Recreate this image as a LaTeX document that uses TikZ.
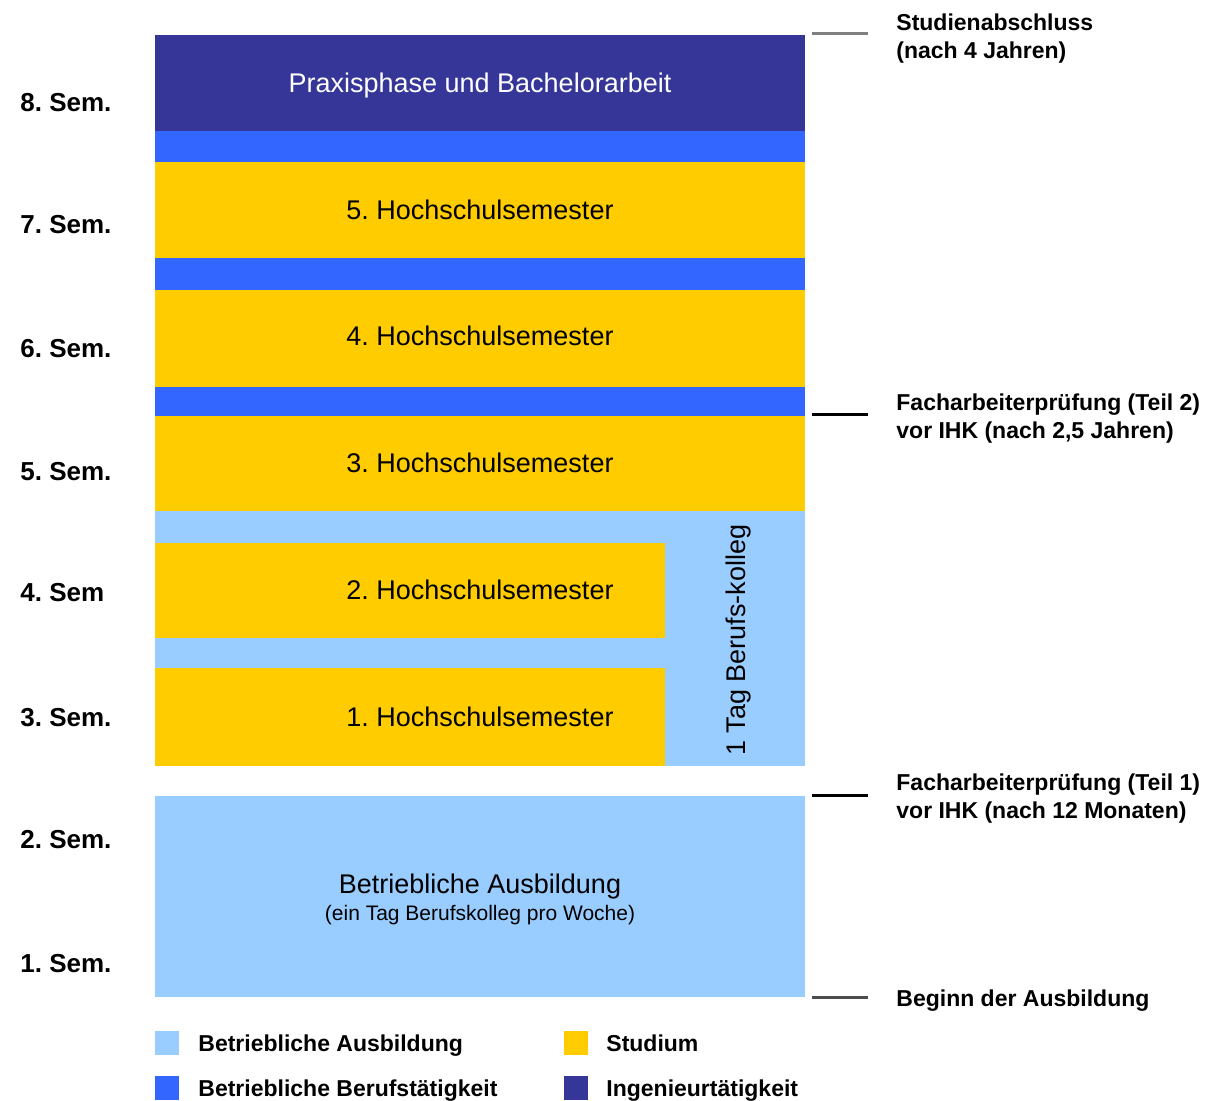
\documentclass[tikz,border=0pt]{standalone}
\usepackage{fontspec}
\setmainfont{Liberation Sans}
\usepackage{xcolor}
\usepackage{tikz}
\definecolor{ausbildung}{HTML}{99CCFF}
\definecolor{beruf}{HTML}{3366FF}
\definecolor{studium}{HTML}{FFCC00}
\definecolor{ingenieur}{HTML}{363699}
\frenchspacing

\begin{document}
\begin{tikzpicture}[x=0.5pt,y=-0.5pt,
  sem/.style={anchor=west,inner sep=0pt,font=\fontsize{13}{15}\selectfont\bfseries},
  info/.style={anchor=north west,inner sep=0pt,align=left,font=\fontsize{11.5}{14}\selectfont\bfseries},
  inbox/.style={anchor=base,inner sep=0pt,font=\fontsize{13.5}{15}\selectfont},
  tick/.style={line width=1.5pt}]
  \useasboundingbox (0,0) rectangle (1225,1101);
  % blocks
  \fill[ingenieur] (155,35) rectangle (805,131);
  \fill[beruf] (155,131) rectangle (805,162);
  \fill[studium] (155,162) rectangle (805,258);
  \fill[beruf] (155,258) rectangle (805,290);
  \fill[studium] (155,290) rectangle (805,387);
  \fill[beruf] (155,387) rectangle (805,416);
  \fill[studium] (155,416) rectangle (805,511);
  \fill[ausbildung] (155,511) rectangle (805,766);
  \fill[studium] (155,543) rectangle (665,638);
  \fill[studium] (155,668) rectangle (665,766);
  \fill[ausbildung] (155,796) rectangle (805,997);
  \draw (480,93) node[inbox,text=white] (praxis) {Praxisphase und Bachelorarbeit}
    (480,220) node[inbox] (hs5) {5. Hochschulsemester}
    (480,346) node[inbox] (hs4) {4. Hochschulsemester}
    (480,472) node[inbox] (hs3) {3. Hochschulsemester}
    (480,599) node[inbox] (hs2) {2. Hochschulsemester}
    (480,726) node[inbox] (hs1) {1. Hochschulsemester}
    (745,640) node[inbox,rotate=90] (kolleg) {1 Tag Berufs-kolleg}
    (480,893) node[inbox] (betrieb) {Betriebliche Ausbildung}
    (480,920) node[inbox,font=\fontsize{10.5}{12}\selectfont] (woche) {(ein Tag Berufskolleg pro Woche)};
  % semesters
  \draw (20,103) node[sem] (s8) {8. Sem.}
    (20,225) node[sem] (s7) {7. Sem.}
    (20,349) node[sem] (s6) {6. Sem.}
    (20,472) node[sem] (s5) {5. Sem.}
    (20,593) node[sem] (s4) {4. Sem}
    (20,718) node[sem] (s3) {3. Sem.}
    (20,840) node[sem] (s2) {2. Sem.}
    (20,964) node[sem] (s1) {1. Sem.};
  % milestones
  \draw[tick,gray] (812,34) -- (868,34);
  \draw[tick,black] (812,414) -- (868,414);
  \draw[tick,black] (812,795) -- (868,795);
  \draw[tick,black!70] (812,997) -- (868,997);
  \draw (896,13) node[info] (abschluss) {Studienabschluss\\(nach 4 Jahren)}
    (896,393) node[info] (teil2) {Facharbeiterprüfung (Teil 2)\\vor IHK (nach 2,5 Jahren)}
    (896,773) node[info] (teil1) {Facharbeiterprüfung (Teil 1)\\vor IHK (nach 12 Monaten)}
    (896,1006) node[info,anchor=base west] (beginn) {Beginn der Ausbildung};
  % legend
  \fill[ausbildung] (155,1031) rectangle (179,1055);
  \fill[beruf] (155,1076) rectangle (179,1100);
  \fill[studium] (564,1031) rectangle (588,1055);
  \fill[ingenieur] (564,1076) rectangle (588,1100);
  \draw (198,1051) node[info,anchor=base west] (lausb) {Betriebliche Ausbildung}
    (198,1096) node[info,anchor=base west] (lberuf) {Betriebliche Berufstätigkeit}
    (606,1051) node[info,anchor=base west] (lstud) {Studium}
    (606,1096) node[info,anchor=base west] (ling) {Ingenieurtätigkeit};
\end{tikzpicture}
\end{document}
